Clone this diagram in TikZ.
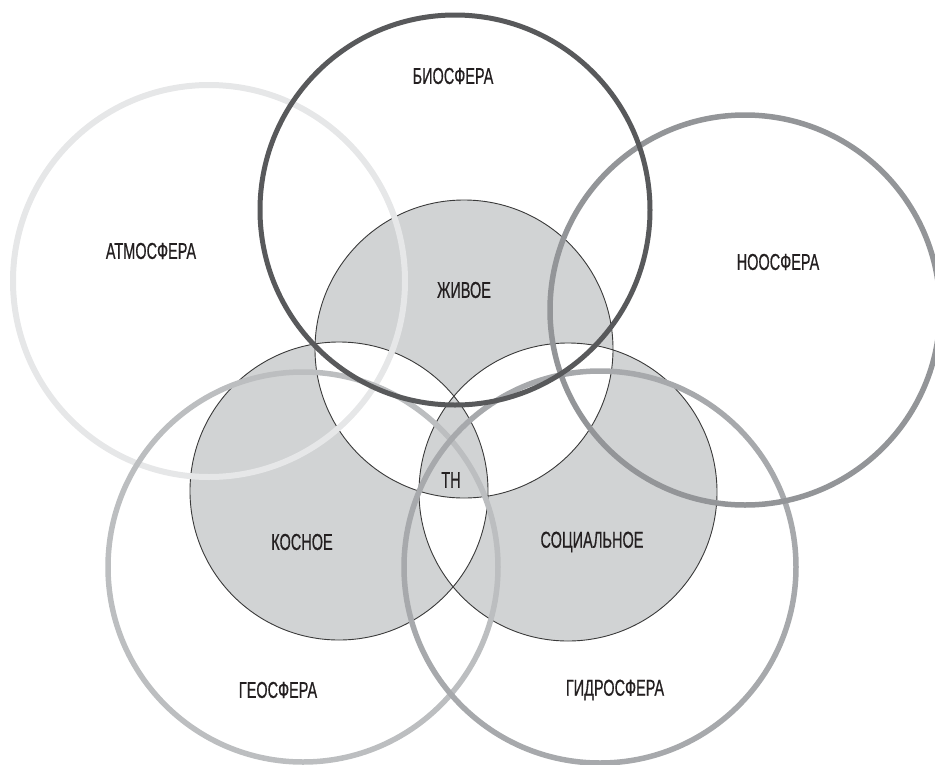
\documentclass[tikz,border=0pt]{standalone}
\usepackage{fontspec}
\newfontfamily\labfont[FakeStretch=0.63,FakeBold=0.6]{Liberation Sans}
\definecolor{innerfill}{HTML}{D1D3D4}
\definecolor{innerline}{HTML}{3A3A3A}
\definecolor{atmcol}{HTML}{E6E7E8}
\definecolor{biocol}{HTML}{58595B}
\definecolor{noocol}{HTML}{939598}
\definecolor{geocol}{HTML}{BCBEC0}
\definecolor{hydcol}{HTML}{A7A9AC}
\definecolor{txtcol}{HTML}{231F20}
\tikzset{
  sphere/.style={line width=5.5pt},
  lab/.style={font=\labfont\fontsize{23}{25}\selectfont, text=txtcol, inner sep=0pt}
}
\begin{document}
\begin{tikzpicture}[x=1pt,y=-1pt]
\useasboundingbox (0,0) rectangle (935,764);
% inner three circles, even-odd fill
\fill[innerfill, even odd rule] (464,349) circle[radius=149] (339,491) circle[radius=149] (568,492) circle[radius=149];
\draw[innerline, line width=0.9pt] (464,349) circle[radius=149] (339,491) circle[radius=149] (568,492) circle[radius=149];
% outer spheres
\draw[sphere, atmcol, line width=6pt] (209,281) circle[radius=196];
\draw[sphere, geocol] (303,567) circle[radius=195];
\draw[sphere, hydcol] (600,567) circle[radius=196];
\draw[sphere, noocol] (745,310) circle[radius=195];
\draw[sphere, biocol, line width=5pt] (455,210) circle[radius=195];
% labels
\node[lab] (bio) at (453,76) {БИОСФЕРА};
\node[lab] (atm) at (151,251) {АТМОСФЕРА};
\node[lab] (noo) at (778,262) {НООСФЕРА};
\node[lab] (zhiv) at (464,290) {ЖИВОЕ};
\node[lab] (th) at (451,480) {ТН};
\node[lab] (kos) at (302,542) {КОСНОЕ};
\node[lab] (soc) at (592,542) {СОЦИАЛЬНОЕ};
\node[lab] (geo) at (278,690) {ГЕОСФЕРА};
\node[lab] (hyd) at (615,690) {ГИДРОСФЕРА};
\end{tikzpicture}
\end{document}
